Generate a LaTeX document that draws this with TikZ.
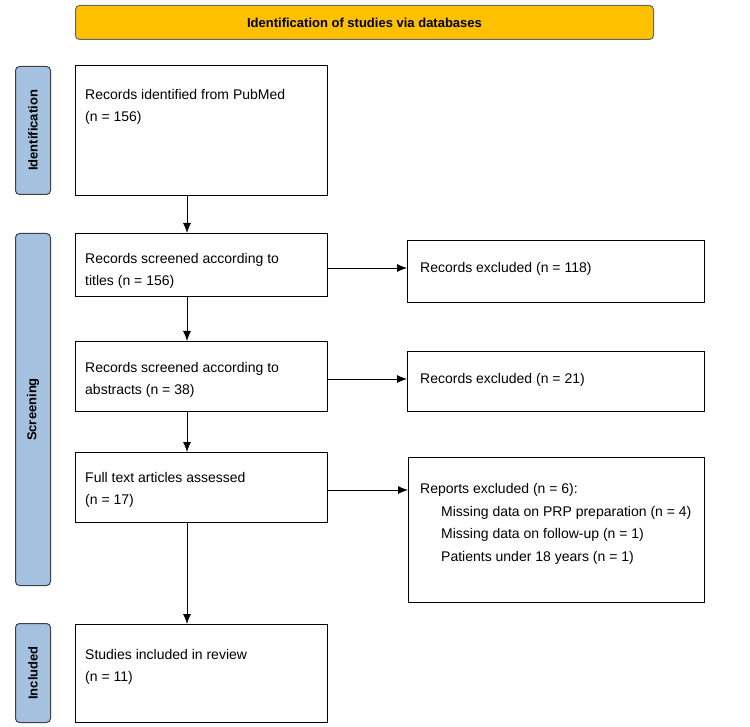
\documentclass[tikz,border=0pt]{standalone}
\usepackage{fontspec}
\setmainfont{Liberation Sans}
\usetikzlibrary{arrows.meta}
\begin{document}
\begin{tikzpicture}[x=1pt,y=-1pt,
 box/.style={draw,line width=1pt,anchor=north west,inner sep=0},
 side/.style={draw=black!75,fill={rgb,255:red,164;green,194;blue,224},rounded corners=4pt,line width=1pt},
 txt/.style={anchor=west,align=left,font=\fontsize{14}{22.5}\selectfont,inner sep=0},
 lab/.style={rotate=90,font=\bfseries\fontsize{13}{15}\selectfont},
 arr/.style={-{Latex[length=10pt,width=8pt]},line width=0.8pt}]
\useasboundingbox (0,0) rectangle (750,727);
\node[draw=black!60,fill={rgb,255:red,255;green,192;blue,0},rounded corners=4pt,line width=1pt,minimum width=578,minimum height=34,anchor=north west,font=\bfseries\fontsize{13}{15}\selectfont] (top) at (75,5) {Identification of studies via databases};
\node[side,minimum width=35,minimum height=128,anchor=north west] (s1) at (15,66) {};
\node[lab] at (s1.center) {Identification};
\node[side,minimum width=35,minimum height=352,anchor=north west] (s2) at (15,233) {};
\node[lab] at (s2.center) {Screening};
\node[side,minimum width=35,minimum height=99,anchor=north west] (s3) at (15,623) {};
\node[lab] at (s3.center) {Included};
\node[box,minimum width=252,minimum height=130] (b1) at (75,65) {};
\node[txt] at (85,107) {Records identified from PubMed\\(n = 156)};
\node[box,minimum width=252,minimum height=63] (b2) at (75,233) {};
\node[txt] at (85,271) {Records screened according to\\titles (n = 156)};
\node[box,minimum width=252,minimum height=70] (b3) at (75,341) {};
\node[txt] at (85,380) {Records screened according to\\abstracts (n = 38)};
\node[box,minimum width=252,minimum height=70] (b4) at (75,452) {};
\node[txt] at (85,490) {Full text articles assessed\\(n = 17)};
\node[box,minimum width=252,minimum height=98] (b5) at (75,624) {};
\node[txt] at (85,667) {Studies included in review\\(n = 11)};
\node[box,minimum width=297,minimum height=62] (r1) at (407,240) {};
\node[txt] at (420,269) {Records excluded (n = 118)};
\node[box,minimum width=297,minimum height=60] (r2) at (407,351) {};
\node[txt] at (420,380) {Records excluded (n = 21)};
\node[box,minimum width=296,minimum height=145] (r3) at (408,457) {};
\node[txt] at (420,524) {Reports excluded (n = 6):\\\hspace{21pt}Missing data on PRP preparation (n = 4)\\\hspace{21pt}Missing data on follow-up (n = 1)\\\hspace{21pt}Patients under 18 years (n = 1)};
\draw[arr] (b1.south -| 187,0) -- (b2.north -| 187,0);
\draw[arr] (b2.south -| 187,0) -- (b3.north -| 187,0);
\draw[arr] (b3.south -| 187,0) -- (b4.north -| 187,0);
\draw[arr] (b4.south -| 187,0) -- (b5.north -| 187,0);
\draw[arr] (b2.east |- 0,268) -- (r1.west |- 0,268);
\draw[arr] (b3.east |- 0,379) -- (r2.west |- 0,379);
\draw[arr] (b4.east |- 0,490) -- (r3.west |- 0,490);
\end{tikzpicture}
\end{document}
